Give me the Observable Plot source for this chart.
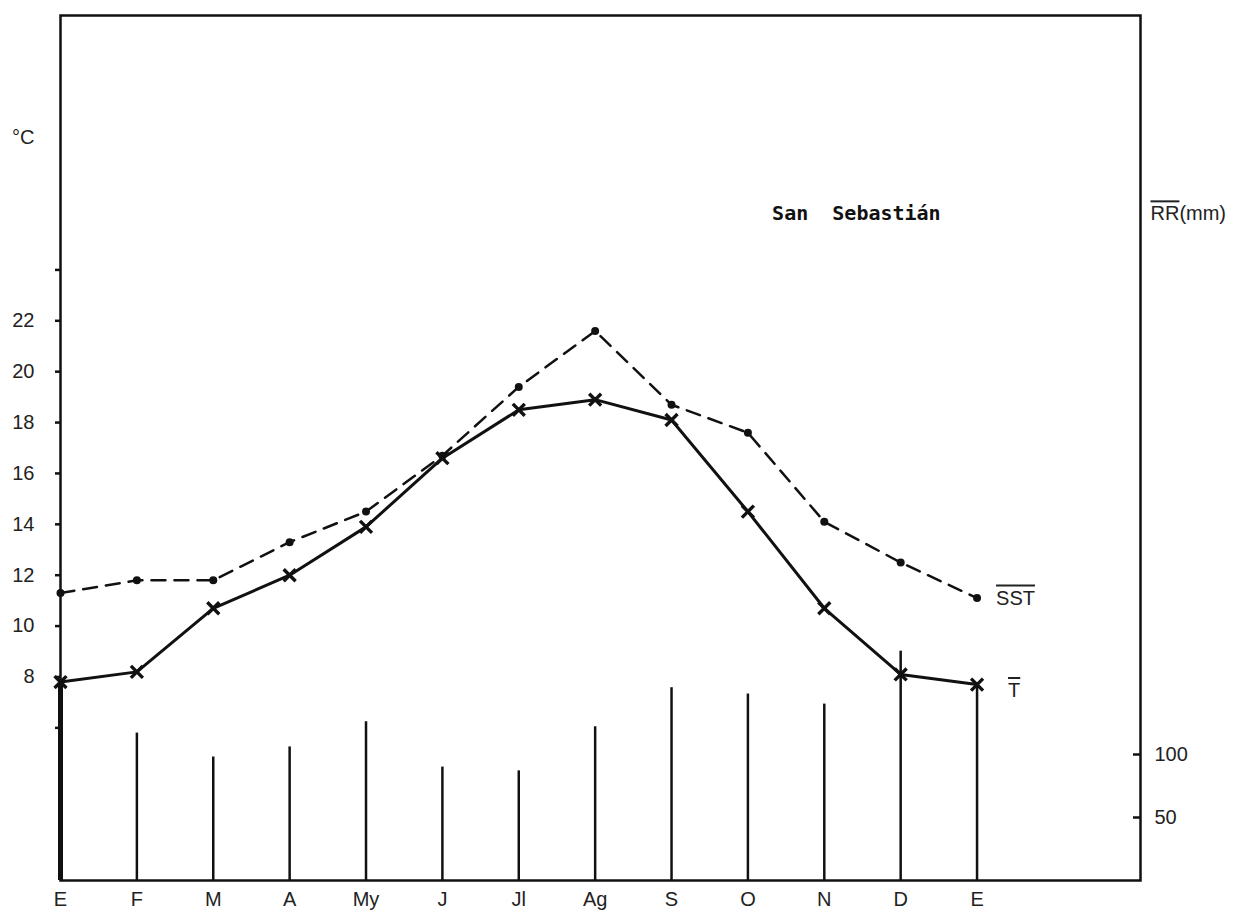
<!DOCTYPE html>
<html><head><meta charset="utf-8">
<script src="https://cdn.jsdelivr.net/npm/d3@7"></script>
<script src="https://cdn.jsdelivr.net/npm/@observablehq/plot@0.6"></script>
<style>
body{margin:0;background:#fff;}
#chart svg{display:block;}
</style></head><body><div id="chart"></div>
<script>
// ---- data ----
const months   = ["E","F","M","A","My","J","Jl","Ag","S","O","N","D","E"];
const tempMean = [7.8, 8.2, 10.7, 12.0, 13.9, 16.6, 18.5, 18.9, 18.1, 14.5, 10.7, 8.1, 7.7];
const sstMean  = [11.3, 11.8, 11.8, 13.3, 14.5, 16.7, 19.4, 21.6, 18.7, 17.6, 14.1, 12.5, 11.1];
const rainMm   = [155, 117, 98, 106, 126, 90, 87, 122, 153, 148, 140, 182, 155];
const tempTicks  = [6, 8, 10, 12, 14, 16, 18, 20, 22, 24];
const tempLabels = [8, 10, 12, 14, 16, 18, 20, 22];
const rainTicks  = [50, 100];
const titleText = "San  Sebastián";

// ---- scales ----
const tempMax = 34;          // top of frame in °C
const rainMax = 686.5;       // top of frame in mm (both axes share zero at the bottom)
const k = tempMax / rainMax; // mm -> °C units
const xMax = 14.14;
const pxPerX = 1080 / xMax;

const idx = months.map((m, i) => i);
const tData = idx.map(i => ({i, v: tempMean[i]}));
const sData = idx.map(i => ({i, v: sstMean[i]}));
const rData = idx.map(i => ({i, v: rainMm[i] * k}));

const font = "'Liberation Sans', Arial, sans-serif";
const fs = 20;

const plot = Plot.plot({
  width: 1234,
  height: 916,
  marginLeft: 60,
  marginRight: 94,
  marginTop: 15,
  marginBottom: 36,
  style: {fontFamily: font, fontSize: fs + "px", color: "#222", background: "#fff"},
  x: {domain: [0, xMax], axis: null},
  y: {domain: [0, tempMax], axis: null},
  marks: [
    // precipitation bars (the January bar lies on the left axis and is drawn heavier)
    Plot.ruleX(rData, {x: "i", y1: 0, y2: "v", stroke: "#111", strokeWidth: d => d.i === 0 ? 5 : 2.5}),
    // SST dashed with dots
    Plot.line(sData, {x: "i", y: "v", stroke: "#111", strokeWidth: 2.5, strokeDasharray: "14,9"}),
    Plot.dot(sData, {x: "i", y: "v", r: 4, fill: "#111", stroke: "none"}),
    // mean temperature solid with crosses
    Plot.line(tData, {x: "i", y: "v", stroke: "#111", strokeWidth: 3}),
    Plot.dot(tData, {x: "i", y: "v", symbol: "times", r: 5.5, stroke: "#111", strokeWidth: 3.4}),
    // frame
    Plot.frame({stroke: "#111", strokeWidth: 2.5}),
    // left axis
    Plot.axisY(tempTicks, {anchor: "left", label: null, tickSize: 5, tickPadding: 21,
      tickFormat: d => tempLabels.includes(d) ? String(d) : "", fontSize: fs, stroke: "#111", strokeWidth: 2.5}),
    // right axis (precipitation): inward tick marks + labels
    Plot.ruleY(rainTicks.map(v => v * k), {x1: xMax - 7 / pxPerX, x2: xMax, stroke: "#111", strokeWidth: 2.5}),
    Plot.axisY(rainTicks.map(v => v * k), {anchor: "right", label: null, tickSize: 0, tickPadding: 14,
      tickFormat: (d, i) => String(rainTicks[i]), fontSize: fs}),
    // bottom axis: months
    Plot.axisX(idx, {anchor: "bottom", label: null, tickSize: 0, tickPadding: 11,
      tickFormat: (d, i) => months[i], fontSize: fs}),
    // unit labels
    Plot.text(["°C"], {x: 0, y: 29.2, dx: -26, textAnchor: "end", fontSize: fs}),
    Plot.text(["RR(mm)"], {x: xMax, y: 26.2, dx: 10, textAnchor: "start", fontSize: fs}),
    // title
    Plot.text([titleText], {x: 10.42, y: 26.2, fontFamily: "'DejaVu Sans Mono', monospace",
      fontWeight: "bold", fontSize: 20, fill: "#111"}),
    // series labels
    Plot.text(["SST"], {x: 12, y: sstMean[12], dx: 19, textAnchor: "start", fontSize: fs}),
    Plot.text(["T"], {x: 12, y: tempMean[12], dx: 31, dy: 6, textAnchor: "start", fontSize: fs})
  ]
});

document.getElementById("chart").appendChild(plot);

// overlines: "SST", "T" entirely, and "RR" in the right-axis title
d3.select(plot).selectAll("text").filter(function(){
  return this.textContent === "SST" || this.textContent === "T";
}).style("text-decoration", "overline");
d3.select(plot).selectAll("text").filter(function(){ return this.textContent === "RR(mm)"; })
  .each(function(){
    const t = d3.select(this);
    t.text(null);
    t.append("tspan").style("text-decoration", "overline").text("RR");
    t.append("tspan").text("(mm)");
  });
</script>
</body></html>
